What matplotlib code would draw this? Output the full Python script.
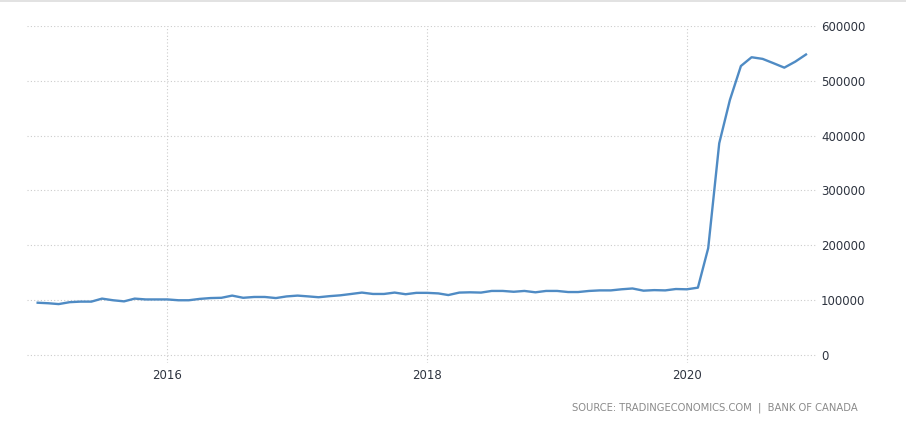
import pandas as pd
import matplotlib.pyplot as plt
import matplotlib.dates as mdates
from matplotlib.lines import Line2D

months = pd.date_range("2015-01-01", "2020-12-01", freq="MS")

values = [
    95000, 94000, 92500, 96000, 97000, 97000, 102500, 99500, 97500, 102500, 101000, 101000,
    101000, 99500, 99500, 102000, 103500, 104000, 108000, 104000, 105500, 105500, 103500, 106500,
    108000, 106500, 105000, 107000, 108500, 111000, 113500, 111000, 111000, 113500, 110500, 113000,
    113000, 112000, 109000, 113500, 114000, 113500, 116500, 116500, 115000, 116500, 114000, 116500,
    116500, 114500, 114500, 116500, 117500, 117500, 119500, 121000, 117000, 118000, 117500, 120000,
    119500, 122500, 194600, 386000, 465000, 527000, 543000, 540000, 532000, 524000, 535000, 548000,
]

y_ticks = [0, 100000, 200000, 300000, 400000, 500000, 600000]
source = "SOURCE: TRADINGECONOMICS.COM  |  BANK OF CANADA"

fig = plt.figure(figsize=(9.06, 4.23), dpi=100)
ax = fig.add_axes([27 / 906, 1 - 363 / 423, 790 / 906, 337 / 423])

ax.plot(months, values, color="#4f8bc4", linewidth=1.7, solid_joinstyle="round")

ax.set_xlim(pd.Timestamp("2014-12-02"), pd.Timestamp("2021-01-01"))
ax.set_ylim(-15000, 600000)

ax.xaxis.set_major_locator(mdates.YearLocator(2))
ax.xaxis.set_major_formatter(mdates.DateFormatter("%Y"))
ax.set_yticks(y_ticks)
ax.yaxis.tick_right()

ax.grid(True, color="#cccccc", linestyle=(0, (1, 2)), linewidth=0.8)
ax.tick_params(length=0, labelsize=8.5, labelcolor="#2e3440")
ax.tick_params(axis="y", pad=3)
ax.tick_params(axis="x", pad=4)
for s in ax.spines.values():
    s.set_visible(False)

fig.add_artist(Line2D([0, 1], [1 - 1.5 / 423, 1 - 1.5 / 423], color="#dddddd", linewidth=1.2))
fig.text(858 / 906, 1 - 408 / 423, source, ha="right", va="center", fontsize=7.2, color="#8a8a8a")

fig.savefig("out.png", dpi=100)
